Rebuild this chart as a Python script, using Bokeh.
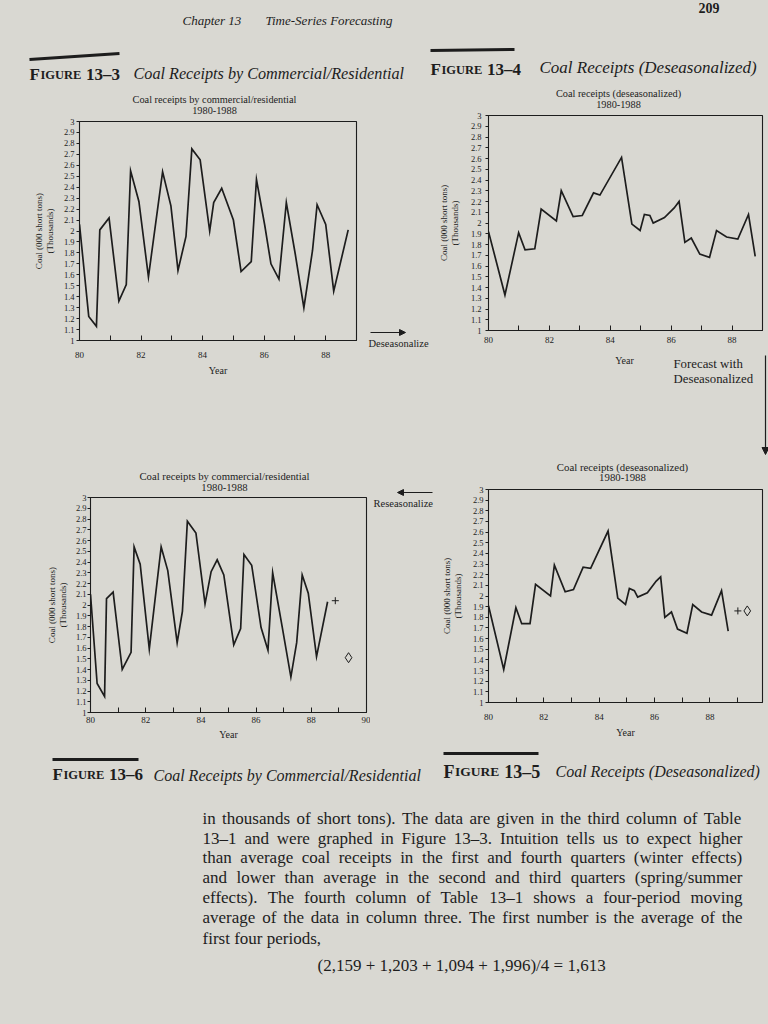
from bokeh.plotting import figure
from bokeh.layouts import column, row
from bokeh.models import Range1d, FixedTicker, Arrow, NormalHead
from bokeh.core.properties import value
from bokeh.embed import file_html
from bokeh.resources import INLINE

PAPER = "#d9d8d2"
INK = "#1d1d1d"
SERIF = "Liberation Serif"

# ---------------- data ----------------
# Figure 13-3: coal receipts by commercial/residential (thousands of short tons)
fig3_years = [80.00, 80.30, 80.55, 80.66, 80.96, 81.28, 81.52, 81.66, 81.93, 82.24,
              82.70, 82.97, 83.20, 83.46, 83.65, 83.92, 84.23, 84.36, 84.62, 85.00,
              85.25, 85.58, 85.75, 86.02, 86.22, 86.48, 86.72, 87.01, 87.29, 87.57,
              87.72, 88.00, 88.26, 88.73]
fig3_coal = [2.06, 1.22, 1.13, 2.01, 2.12, 1.36, 1.51, 2.55, 2.27, 1.58,
             2.54, 2.23, 1.64, 1.95, 2.75, 2.65, 2.00, 2.26, 2.39, 2.10,
             1.63, 1.72, 2.47, 2.05, 1.70, 1.56, 2.26, 1.79, 1.30, 1.82,
             2.24, 2.06, 1.45, 2.01]

# Figure 13-4: coal receipts, deseasonalized
fig4_years = [80.00, 80.54, 80.99, 81.20, 81.52, 81.73, 82.23, 82.39, 82.78, 83.08,
              83.45, 83.66, 84.37, 84.71, 84.98, 85.12, 85.30, 85.41, 85.78, 86.10,
              86.26, 86.45, 86.66, 86.94, 87.26, 87.49, 87.82, 88.19, 88.54, 88.76]
fig4_coal = [1.92, 1.33, 1.91, 1.75, 1.76, 2.13, 2.02, 2.30, 2.06, 2.07,
             2.28, 2.26, 2.61, 1.99, 1.93, 2.08, 2.07, 2.00, 2.05, 2.14,
             2.20, 1.82, 1.86, 1.71, 1.68, 1.93, 1.87, 1.85, 2.08, 1.69]

# Figure 13-5: deseasonalized series with forecast (+ and diamond)
fig5_years = [80.00, 80.55, 80.99, 81.20, 81.50, 81.70, 82.24, 82.38, 82.77, 83.07,
              83.42, 83.69, 84.32, 84.67, 84.95, 85.09, 85.27, 85.39, 85.74, 86.06,
              86.22, 86.37, 86.61, 86.83, 87.17, 87.38, 87.70, 88.06, 88.42, 88.66]
fig5_coal = [1.91, 1.31, 1.89, 1.74, 1.74, 2.11, 2.00, 2.29, 2.04, 2.06,
             2.27, 2.26, 2.61, 1.98, 1.92, 2.07, 2.05, 1.99, 2.03, 2.14,
             2.18, 1.80, 1.85, 1.69, 1.65, 1.92, 1.85, 1.82, 2.05, 1.67]
fig5_plus_year = [89.01]
fig5_plus_coal = [1.86]
fig5_diamond_year = [89.35]
fig5_diamond_coal = [1.86]

# Figure 13-6: commercial/residential series with reseasonalized forecast
fig6_years = [80.00, 80.24, 80.51, 80.58, 80.82, 81.15, 81.47, 81.58, 81.80, 82.13,
              82.56, 82.80, 83.14, 83.33, 83.51, 83.82, 84.15, 84.37, 84.59, 84.83,
              85.19, 85.44, 85.56, 85.84, 86.18, 86.43, 86.60, 86.95, 87.26, 87.47,
              87.67, 87.89, 88.19, 88.59]
fig6_coal = [2.10, 1.27, 1.15, 2.06, 2.12, 1.40, 1.56, 2.54, 2.38, 1.59,
             2.54, 2.32, 1.65, 1.94, 2.78, 2.67, 2.01, 2.31, 2.42, 2.28,
             1.63, 1.78, 2.47, 2.37, 1.79, 1.58, 2.30, 1.79, 1.33, 1.65,
             2.28, 2.11, 1.52, 2.03]
fig6_plus_year = [88.87]
fig6_plus_coal = [2.04]
fig6_diamond_year = [89.35]
fig6_diamond_coal = [1.51]

y_ticks = [1.0, 1.1, 1.2, 1.3, 1.4, 1.5, 1.6, 1.7, 1.8, 1.9, 2.0,
           2.1, 2.2, 2.3, 2.4, 2.5, 2.6, 2.7, 2.8, 2.9, 3.0]
y_tick_labels = ["1", "1.1", "1.2", "1.3", "1.4", "1.5", "1.6", "1.7", "1.8", "1.9", "2",
                 "2.1", "2.2", "2.3", "2.4", "2.5", "2.6", "2.7", "2.8", "2.9", "3"]
x_ticks = [80, 81, 82, 83, 84, 85, 86, 87, 88, 89, 90]
x_tick_labels = ["80", "", "82", "", "84", "", "86", "", "88", "", "90"]

title_comm = ["Coal receipts by commercial/residential", "1980-1988"]
title_des = ["Coal receipts (deseasonalized)", "1980-1988"]
y_title = "Coal (000 short tons)\n(Thousands)"

body_lines = [
    "in thousands of short tons). The data are given in the third column of Table",
    "13\u20131 and were graphed in Figure 13\u20133. Intuition tells us to expect higher",
    "than average coal receipts in the first and fourth quarters (winter effects)",
    "and lower than average in the second and third quarters (spring/summer",
    "effects). The fourth column of Table 13\u20131 shows a four-period moving",
    "average of the data in column three. The first number is the average of the",
    "first four periods,",
]
formula = "(2,159 + 1,203 + 1,094 + 1,996)/4 = 1,613"

# Times-compatible advance widths (per 1000 em) used to justify the body text
TW = {' ': 250, '(': 333, ')': 333, ',': 250, '-': 333, '.': 250, '/': 278, '=': 564,
      '+': 564, '\u2013': 500, 'F': 556, 'I': 333, 'T': 611,
      'a': 444, 'b': 500, 'c': 444, 'd': 500, 'e': 444, 'f': 333, 'g': 500, 'h': 500,
      'i': 278, 'j': 278, 'k': 500, 'l': 278, 'm': 778, 'n': 500, 'o': 500, 'p': 500,
      'q': 500, 'r': 333, 's': 389, 't': 278, 'u': 500, 'v': 500, 'w': 722, 'x': 500,
      'y': 500, 'z': 444}


def tw(s):
    return sum(TW.get(c, 500) for c in s) / 1000.0


def page_fig(w, h):
    p = figure(width=w, height=h, x_range=Range1d(0, w), y_range=Range1d(h, 0),
               x_axis_location=None, y_axis_location=None, toolbar_location=None,
               output_backend="svg", min_border=0, outline_line_color=None,
               background_fill_color=PAPER, border_fill_color=PAPER)
    p.grid.visible = False
    return p


def solo(p):
    # wrap a text strip so its frame is not aligned with neighbouring charts
    return row(p)


def put(p, x, y, s, size, style="normal", align="left", baseline="alphabetic"):
    p.text(x=[x], y=[y], text=[s], text_font=value(SERIF), text_font_size=value(f"{size}px"),
           text_font_style=style, text_align=align, text_baseline=baseline, text_color=INK)


def fig_tag(p, x, y, num, big=17, small=12.5):
    # "FIGURE" set in bold small caps, then the number
    put(p, x, y, "F", big, "bold")
    x2 = x + 0.611 * big + 0.5
    put(p, x2, y, "IGURE", small, "bold")
    x3 = x2 + 3.278 * small + 0.25 * big + 0.5
    put(p, x3, y, num, big, "bold")


def chart_title(p, cx, y1, y2, lines, size):
    put(p, cx, y1, lines[0], size, align="center", baseline="middle")
    put(p, cx, y2, lines[1], size, align="center", baseline="middle")


def arrow(p, x0, y0, x1, y1, size=6, width=1.0):
    p.add_layout(Arrow(x_start=x0, y_start=y0, x_end=x1, y_end=y1, line_color=INK,
                       line_width=width,
                       end=NormalHead(size=size, fill_color=INK, line_color=INK, line_width=1)))


def chart(w, h, frame, xmax, xl_so, xal_so, yl_so, yal_so, xlabel=True):
    fx0, fx1, fy0, fy1 = frame
    p = figure(width=w, height=h, x_range=Range1d(80, xmax), y_range=Range1d(1, 3),
               min_border_left=fx0, min_border_right=w - fx1, min_border_top=fy0,
               min_border_bottom=h - fy1, toolbar_location=None, output_backend="svg",
               background_fill_color=PAPER, border_fill_color=PAPER,
               outline_line_color=INK, outline_line_width=1.1)
    p.grid.visible = False

    xa = p.xaxis[0]
    xa.ticker = FixedTicker(ticks=[t for t in x_ticks if t <= xmax], minor_ticks=[])
    xa.major_label_overrides = {t: l for t, l in zip(x_ticks, x_tick_labels)}
    xa.major_tick_in = 5
    xa.major_tick_out = 0
    xa.minor_tick_line_color = None
    xa.major_label_text_font = SERIF
    xa.major_label_text_font_size = "9px"
    xa.major_label_text_color = INK
    xa.major_label_standoff = xl_so
    if xlabel:
        xa.axis_label = "Year"
        xa.axis_label_text_font = SERIF
        xa.axis_label_text_font_style = "normal"
        xa.axis_label_text_font_size = "10px"
        xa.axis_label_text_color = INK
        xa.axis_label_standoff = xal_so
    xa.axis_line_color = INK
    xa.major_tick_line_color = INK

    ya = p.yaxis[0]
    ya.ticker = FixedTicker(ticks=y_ticks, minor_ticks=[])
    ya.major_label_overrides = {t: l for t, l in zip(y_ticks, y_tick_labels)}
    ya.major_tick_in = 0
    ya.major_tick_out = 3
    ya.minor_tick_line_color = None
    ya.major_label_text_font = SERIF
    ya.major_label_text_font_size = "8.5px"
    ya.major_label_text_color = INK
    ya.major_label_standoff = yl_so
    ya.axis_label = y_title
    ya.axis_label_text_font = SERIF
    ya.axis_label_text_font_style = "normal"
    ya.axis_label_text_font_size = "9px"
    ya.axis_label_text_color = INK
    ya.axis_label_text_line_height = 1.05
    ya.axis_label_standoff = yal_so
    ya.axis_line_color = INK
    ya.major_tick_line_color = INK
    return p


def series(p, xs, ys):
    p.line(xs, ys, line_color=INK, line_width=1.7, line_join="miter")


# ---------------- band A (page y 0..85): running head and top captions ----------------
A = page_fig(768, 85)
put(A, 182, 20, "Chapter 13", 13, "italic")
put(A, 265, 20, "Time-Series Forecasting", 13, "italic")
put(A, 698, 2, "209", 14, "bold", baseline="top")
A.line(x=[29, 119], y=[59, 53], line_width=3, line_color=INK)
fig_tag(A, 29, 74, "13\u20133")
put(A, 133, 73, "Coal Receipts by Commercial/Residential", 16.2, "italic")
A.line(x=[430, 514], y=[50, 49], line_width=3, line_color=INK)
fig_tag(A, 430, 69, "13\u20134")
put(A, 539, 67, "Coal Receipts (Deseasonalized)", 17, "italic")

# ---------------- left column (page x 0..436, y 85..748) ----------------
t1 = page_fig(436, 33)                      # page y 85..118
chart_title(t1, 214, 14, 25, title_comm, 10.3)

p1 = chart(360, 342, (79, 356, 3, 222), 89, 11, 4, 2, 6)    # page y 118..460
series(p1, fig3_years, fig3_coal)

sB = page_fig(76, 342)                      # page x 360..436, y 118..460
put(sB, 8, 225, "Deseasonalize", 10.5, baseline="middle")
arrow(sB, 10, 214, 45, 214)

t3 = page_fig(370, 34)                      # page y 460..494
chart_title(t3, 224, 15, 27, title_comm, 10.7)

p3 = chart(370, 254, (90, 366, 3, 218), 90, 4, 3, 1, 5)      # page y 494..748
series(p3, fig6_years, fig6_coal)
p3.scatter(fig6_plus_year, fig6_plus_coal, marker="cross", size=7, line_color=INK, line_width=1)
p3.scatter(fig6_diamond_year, fig6_diamond_coal, marker="diamond", size=10, fill_color=None,
           line_color=INK, line_width=1)

sC = page_fig(66, 288)                      # page x 370..436, y 460..748
put(sC, 3, 43, "Reseasonalize", 10.5, baseline="middle")
arrow(sC, 62, 32, 27, 32)

left_col = column(solo(t1), row(p1, solo(sB)), row(column(solo(t3), p3), solo(sC)))

# ---------------- right column (page x 436..768, y 85..748) ----------------
t2 = page_fig(332, 27)                      # page y 85..112
chart_title(t2, 182, 8, 19, title_des, 10.3)

p2 = chart(332, 240, (47, 326, 3, 218), 89, 6, 0, 4, 8, xlabel=False)   # page y 112..352
series(p2, fig4_years, fig4_coal)

sF = page_fig(332, 108)                     # page y 352..460
put(sF, 188, 8, "Year", 10, align="center", baseline="middle")
put(sF, 237, 11, "Forecast with", 12.8, baseline="middle")
put(sF, 237, 26, "Deseasonalized", 12.8, baseline="middle")
arrow(sF, 329, 3, 329, 102, size=7, width=1.2)

t4 = page_fig(332, 26)                      # page y 460..486
chart_title(t4, 186, 6, 17, title_des, 10.8)

p4 = chart(332, 262, (52, 332, 3, 216), 89.9, 11, 4, 2, 7)  # page y 486..748
series(p4, fig5_years, fig5_coal)
p4.scatter(fig5_plus_year, fig5_plus_coal, marker="cross", size=7, line_color=INK, line_width=1)
p4.scatter(fig5_diamond_year, fig5_diamond_coal, marker="diamond", size=10, fill_color=None,
           line_color=INK, line_width=1)

right_col = column(solo(t2), p2, solo(sF), solo(t4), p4)

# ---------------- band D (page y 748..1018): bottom captions and body text ----------------
D = page_fig(768, 270)
D.line(x=[52, 138], y=[11, 11], line_width=3, line_color=INK)
fig_tag(D, 52, 26, "13\u20136")
put(D, 153, 27, "Coal Receipts by Commercial/Residential", 16, "italic")
D.line(x=[443, 538], y=[5, 5], line_width=3, line_color=INK)
fig_tag(D, 443, 23, "13\u20135", big=18, small=13.5)
put(D, 555, 23, "Coal Receipts (Deseasonalized)", 16, "italic")

left, right = 202, 742
target = right - left
fs = min(17.0, min(target / tw(l) for l in body_lines[:-1]))
base = [70, 89.5, 109, 129, 149, 169, 189.5]
for i, line in enumerate(body_lines):
    words = line.split(" ")
    if i < len(body_lines) - 1:
        wsum = sum(tw(wd) for wd in words) * fs
        gap = (target - wsum) / (len(words) - 1)
    else:
        gap = 0.25 * fs
    xs_w, cx = [], left
    for wd in words:
        xs_w.append(cx)
        cx += tw(wd) * fs + gap
    D.text(x=xs_w, y=[base[i]] * len(words), text=words, text_font=value(SERIF),
           text_font_size=value(f"{fs:.2f}px"), text_baseline="alphabetic",
           text_align="left", text_color=INK)
put(D, 317, 217, formula, round(fs, 2))

layout = column(solo(A), row(left_col, right_col), solo(D))

html = file_html(layout, INLINE)
html = html.replace("<head>", "<head><style>html,body{background:#d9d8d2;}</style>", 1)
open("out.html", "w").write(html)
